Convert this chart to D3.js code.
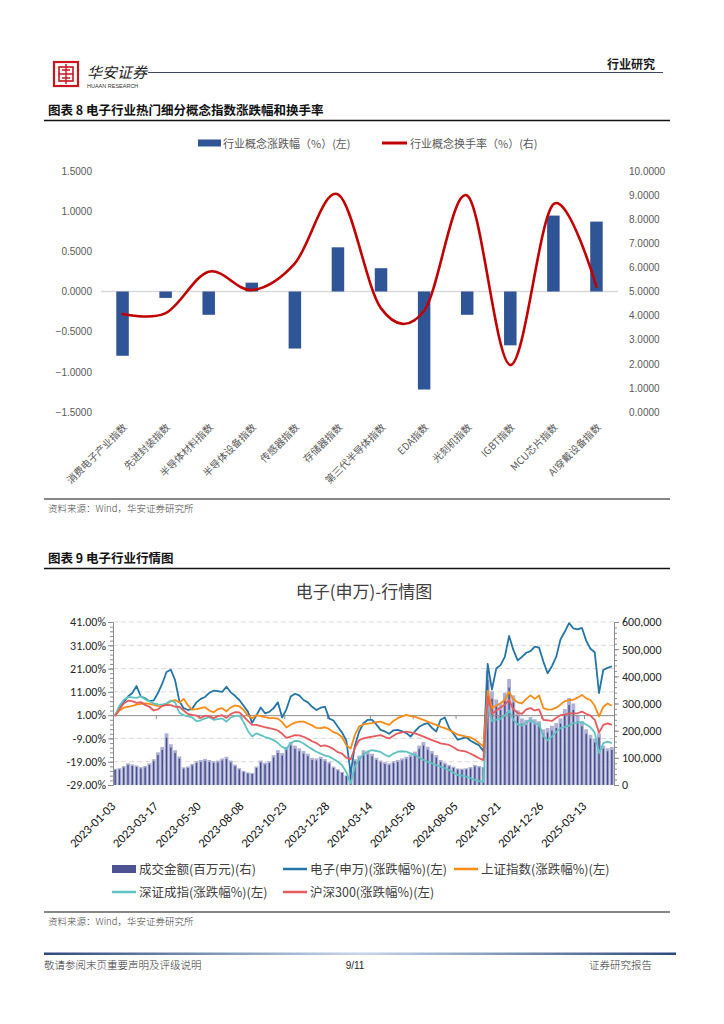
<!DOCTYPE html>
<html>
<head>
<meta charset="utf-8">
<script src="https://cdn.jsdelivr.net/npm/d3@7"></script>
<style>
    body { margin: 0; background: #fff; }
    svg { display: block; }
</style>
</head>
<body>
<script>
// ---- chart 8 data (concept indices) ----
let conceptNames = ['消费电子产业指数', '先进封装指数', '半导体材料指数', '半导体设备指数', '传感器指数', '存储器指数',
    '第三代半导体指数', 'EDA指数', '光刻机指数', 'IGBT指数', 'MCU芯片指数', 'AI穿戴设备指数'];
let conceptChange = [-0.80, -0.08, -0.29, 0.11, -0.71, 0.55, 0.29, -1.22, -0.29, -0.67, 0.945, 0.87];
let conceptTurnover = [4.07, 4.10, 5.82, 5.06, 6.17, 9.03, 4.30, 4.20, 8.98, 1.95, 8.62, 5.20];
let changeTicks = [-1.5, -1.0, -0.5, 0, 0.5, 1.0, 1.5];
let turnoverTicks = [0, 1, 2, 3, 4, 5, 6, 7, 8, 9, 10];

// ---- chart 9 data (weekly readings, every 5 trading days) ----
let dateLabels = ['2023-01-03', '2023-03-17', '2023-05-30', '2023-08-08', '2023-10-23', '2023-12-28',
    '2024-03-14', '2024-05-28', '2024-08-05', '2024-10-21', '2024-12-26', '2025-03-13'];
let dateLabelIndex = [0, 10, 20, 30, 40, 50, 60, 70, 80, 90, 100, 110];

// 成交金额 (百万元)
let amount = [60000, 62000, 70000, 80000, 76000, 72000, 66000, 70000, 80000, 95000,
    120000, 140000, 190000, 150000, 128000, 105000, 65000, 68000, 78000, 88000,
    92000, 96000, 92000, 88000, 90000, 98000, 104000, 90000, 75000, 62000,
    52000, 46000, 44000, 68000, 90000, 82000, 88000, 110000, 128000, 118000,
    140000, 158000, 145000, 135000, 125000, 115000, 100000, 98000, 104000, 95000,
    85000, 68000, 58000, 48000, 35000, 60000, 95000, 108000, 128000, 122000,
    115000, 100000, 90000, 84000, 80000, 88000, 92000, 98000, 104000, 112000,
    123000, 145000, 158000, 141000, 125000, 110000, 92000, 82000, 74000, 68000,
    61000, 60000, 62000, 66000, 74000, 70000, 67000, 420000, 345000, 315000,
    300000, 340000, 390000, 330000, 275000, 245000, 240000, 250000, 242000, 235000,
    205000, 210000, 218000, 228000, 245000, 280000, 320000, 300000, 255000, 235000,
    205000, 185000, 170000, 190000, 145000, 135000, 140000];

// 电子(申万) 涨跌幅 %
let elecChange = [1, 4, 6.5, 9, 10.5, 13.5, 9, 8.2, 7, 7.3,
    10.5, 14.5, 19.5, 20.5, 16, 7, 4, 3.2, 3.8, 6.5,
    8, 8.8, 10.6, 11.5, 11.3, 11, 13.2, 10.8, 9.3, 7.5,
    5, 2.5, -2.3, 1, 4.3, 1.8, 2.4, 4, 6.5, 0,
    3.5, 9, 10.2, 9.5, 7.5, 6.5, 4.6, 3.2, 4.2, 4.6,
    -0.5, -1.3, -4, -6.5, -10, -24, -12, -6, -2.5, -1,
    -1, -3, -5.3, -6, -7, -5.5, -5.3, -6, -6.7, -8.2,
    -6, -4, -3, -2.4, -4.5, -6, -1, 0, -4.5, -7,
    -9.6, -9, -8.5, -10, -11, -12, -14.5, 23, 12, 21,
    22.5, 26, 35, 29, 24.5, 26, 27.8, 28.5, 30.4, 30,
    24, 19, 22, 26, 33.5, 36.8, 40.5, 38.3, 37.8, 38.5,
    33, 29.5, 28, 10.5, 20.4, 21.3, 22];

// 上证指数 涨跌幅 %
let shChange = [1, 3, 4.2, 4.6, 5, 5.5, 5.8, 6.1, 5.8, 5.4,
    5, 4.8, 5.8, 7, 7.5, 6.4, 8, 5.2, 3.4, 3.6,
    4, 4.4, 3, 2.2, 3.6, 4, 2.6, 4.3, 5.2, 4.8,
    3.2, 0.8, -0.3, 1, 0.6, 0.2, -0.3, -0.3, -0.5, -2,
    -4.3, -3.1, -2.2, -1.8, -1.8, -2.6, -3.4, -4.5, -4.6, -4.2,
    -5, -6.3, -7, -8.5, -12, -13.3, -7.5, -3.8, -3, -2.6,
    -2.4, -2, -1.8, -2.5, -3.2, -1.5, -0.3, 0.5, 1.1, 0.6,
    0.3, -0.4, -1, -1.8, -2.5, -3.2, -4, -4.6, -5.4, -6.4,
    -7.4, -7.8, -8.2, -8.6, -9.6, -11, -12.5, 11.5, 4, 5,
    6.1, 7.5, 11, 7.8, 6.5, 6.1, 8, 9.5, 8, 9.5,
    4, 3.4, 3.5, 4.2, 5.5, 7, 7.5, 7.6, 8.5, 9.7,
    8.2, 7.5, 5, 0.5, 4.6, 6, 5];

// 深证成指 涨跌幅 %
let szChange = [1, 5, 7.5, 8.8, 8.6, 8.4, 9, 7.8, 7, 6,
    5.6, 5.5, 6.1, 7.3, 6.5, 2, 1, 0.5, 0, -1.7,
    -1.2, -0.4, 0.1, -1, -0.7, -0.4, -1.8, 0, 0.7, 0.8,
    -2, -5.8, -8.2, -6.8, -7.6, -8.4, -9, -9.7, -11, -12.6,
    -13.6, -11, -10, -10.2, -11.2, -12.5, -13.6, -14.7, -15.5, -16.4,
    -16.8, -17.8, -19, -20.5, -23.5, -28.3, -21, -18, -15.8, -14.6,
    -14, -14.4, -14.8, -16, -16.8, -15.5, -14.7, -14.5, -14.7, -15.4,
    -16.1, -17.2, -18.2, -19, -19.7, -20.5, -21.1, -21.8, -22.6, -23.7,
    -24.7, -25, -25.4, -26, -26.8, -27.3, -27.6, 5, -1.5, -1,
    -0.5, 0.8, 3, -1, -3, -3.5, -2.2, -1, -2.5, -2.8,
    -8, -9.8, -8.2, -6.2, -4.6, -4, -3.5, -2.5, -2.2, -2,
    -3, -4.2, -6.5, -15.3, -11, -10.4, -11];

// 沪深300 涨跌幅 %
let hs300Change = [0.5, 3.5, 6, 7.2, 7, 6.3, 6.6, 5.4, 4.6, 3,
    3.5, 5, 5.4, 5.3, 4.6, 4.6, 3, 1.5, 1.1, 0.8,
    -0.2, 0.8, 0.5, -0.3, 0.6, 1, -0.2, 1.5, 2.3, 2.2,
    0.5, -1.5, -3.2, -3.2, -3.7, -4.2, -4.6, -5, -5.6, -7,
    -8.8, -8.2, -7.6, -7.7, -8.3, -9.2, -10.2, -11, -12.3, -12,
    -12.6, -13.6, -14.9, -15.5, -17.3, -18, -13, -9.7, -9, -8.6,
    -8.2, -7.9, -7.6, -8.4, -9, -7.8, -6.8, -6.4, -6.1, -6.4,
    -6.8, -7.5, -8.2, -9, -9.7, -10.4, -11.1, -11.4, -11.8, -12.8,
    -14, -14.3, -14.7, -15.6, -16.5, -17.5, -18.3, 9, 1.5, 3,
    4.3, 5.5, 7.5, 3.5, 2, 1.5, 3.5, 4, 3, 3.5,
    -1, -1.2, -1.5, -0.2, 1, 1.2, 1.8, 1.8, 1.8, 2.5,
    1.6, 0.8, -1, -6.5, -3.2, -2.5, -3.2];

let pctTicks = [-29, -19, -9, 1, 11, 21, 31, 41];
let amountTicks = [0, 100000, 200000, 300000, 400000, 500000, 600000];

let cjk = '"Noto Sans CJK SC", "Noto Sans", sans-serif';
let latin = '"Liberation Sans", Arial, sans-serif';
let calib = 'Carlito, "Liberation Sans", Arial, sans-serif';

let svg = d3.select('body').append('svg')
    .attr('width', 724)
    .attr('height', 1024);

function translate(x, y) {
    return 'translate(' + x + ',' + y + ')';
}

// ================= page header =================
let header = svg.append('g').attr('id', 'header');
header.append('rect')
    .attr('x', 54).attr('y', 62).attr('width', 24).attr('height', 24)
    .attr('fill', '#fff').attr('stroke', '#c9151e').attr('stroke-width', 2.2);
header.append('rect')
    .attr('x', 59).attr('y', 67).attr('width', 14).attr('height', 14)
    .attr('fill', 'none').attr('stroke', '#c9151e').attr('stroke-width', 1.6);
header.append('path')
    .attr('d', 'M59,74H73M66,64V84M62,70H70M62,78H70')
    .attr('stroke', '#c9151e').attr('stroke-width', 1.4).attr('fill', 'none');
header.append('text')
    .attr('x', 87).attr('y', 78)
    .attr('font-family', cjk).attr('font-size', 15).attr('font-style', 'italic')
    .attr('fill', '#222')
    .text('华安证券');
header.append('text')
    .attr('x', 87).attr('y', 88)
    .attr('font-family', latin).attr('font-size', 5.5)
    .attr('fill', '#333')
    .text('HUAAN RESEARCH');
header.append('line')
    .attr('x1', 148).attr('x2', 663).attr('y1', 72.5).attr('y2', 72.5)
    .attr('stroke', '#3b4763').attr('stroke-width', 1);
header.append('text')
    .attr('x', 655).attr('y', 69).attr('text-anchor', 'end')
    .attr('font-family', cjk).attr('font-size', 12).attr('font-weight', 700)
    .attr('fill', '#1a1a1a')
    .text('行业研究');

// section title helper
function sectionTitle(y, label) {
    svg.append('text')
        .attr('x', 48).attr('y', y)
        .attr('font-family', cjk).attr('font-size', 12.5).attr('font-weight', 700)
        .attr('fill', '#111')
        .text(label);
    svg.append('line')
        .attr('x1', 44).attr('x2', 670).attr('y1', y + 5.5).attr('y2', y + 5.5)
        .attr('stroke', '#111').attr('stroke-width', 1.4);
}

function sourceNote(y) {
    svg.append('line')
        .attr('x1', 44).attr('x2', 670).attr('y1', y - 13).attr('y2', y - 13)
        .attr('stroke', '#111').attr('stroke-width', 1.2);
    svg.append('text')
        .attr('x', 48).attr('y', y)
        .attr('font-family', cjk).attr('font-size', 9.5).attr('font-weight', 300)
        .attr('fill', '#444')
        .text('资料来源：Wind，华安证券研究所');
}

// ================= chart 8 =================
sectionTitle(115, '图表 8 电子行业热门细分概念指数涨跌幅和换手率');

let c8 = svg.append('g').attr('id', 'chart8');
let x8 = d3.scaleBand().domain(conceptNames).range([101, 618]);
let yChange = d3.scaleLinear().domain([-1.5, 1.5]).range([412, 171]);
let yTurn = d3.scaleLinear().domain([0, 10]).range([412, 171]);
let barW8 = 12.5;

// legend
c8.append('rect').attr('x', 198).attr('y', 139.5).attr('width', 23).attr('height', 7).attr('fill', '#2f5597');
c8.append('text').attr('x', 223).attr('y', 147.5)
    .attr('font-family', cjk).attr('font-size', 11).attr('fill', '#595959')
    .text('行业概念涨跌幅（%）(左)');
c8.append('line').attr('x1', 382).attr('x2', 407).attr('y1', 143).attr('y2', 143)
    .attr('stroke', '#c00000').attr('stroke-width', 3);
c8.append('text').attr('x', 410).attr('y', 147.5)
    .attr('font-family', cjk).attr('font-size', 11).attr('fill', '#595959')
    .text('行业概念换手率（%）(右)');

// zero line
c8.append('line')
    .attr('x1', 101).attr('x2', 618)
    .attr('y1', yChange(0)).attr('y2', yChange(0))
    .attr('stroke', '#d9d9d9').attr('stroke-width', 1.5);

// bars
c8.selectAll('.bar8')
    .data(conceptNames)
    .enter()
    .append('rect')
    .attr('class', 'bar8')
    .attr('x', d => x8(d) + (x8.bandwidth() - barW8) / 2)
    .attr('width', barW8)
    .attr('y', (d, i) => yChange(Math.max(0, conceptChange[i])))
    .attr('height', (d, i) => Math.abs(yChange(conceptChange[i]) - yChange(0)))
    .attr('fill', '#2f5597');

// smoothed turnover line
let turnLine = d3.line()
    .x((d, i) => x8(conceptNames[i]) + x8.bandwidth() / 2)
    .y(d => yTurn(d))
    .curve(d3.curveCardinal.tension(0));
c8.append('path')
    .datum(conceptTurnover)
    .attr('d', turnLine)
    .attr('fill', 'none')
    .attr('stroke', '#c00000')
    .attr('stroke-width', 2.6)
    .attr('stroke-linecap', 'round');

// axes
let leftAxis8 = c8.append('g')
    .attr('transform', translate(92, 0))
    .call(d3.axisLeft(yChange).tickValues(changeTicks).tickFormat(d3.format('.4f')).tickSize(0).tickPadding(0));
let rightAxis8 = c8.append('g')
    .attr('transform', translate(629, 0))
    .call(d3.axisRight(yTurn).tickValues(turnoverTicks).tickFormat(d3.format('.4f')).tickSize(0).tickPadding(0));
[leftAxis8, rightAxis8].forEach(function(g) {
    g.select('.domain').remove();
    g.selectAll('text')
        .attr('font-family', latin).attr('font-size', 10).attr('fill', '#595959');
});

// rotated category labels
c8.selectAll('.cat8')
    .data(conceptNames)
    .enter()
    .append('text')
    .attr('class', 'cat8')
    .attr('transform', d => translate(x8(d) + x8.bandwidth() / 2 + 5, 428) + ' rotate(-45)')
    .attr('text-anchor', 'end')
    .attr('font-family', cjk).attr('font-size', 10).attr('fill', '#595959')
    .text(d => d);

sourceNote(512);

// ================= chart 9 =================
sectionTitle(563, '图表 9 电子行业行情图');

let c9 = svg.append('g').attr('id', 'chart9');
let N = amount.length;
let plot9 = {left: 113, right: 614, top: 622, bottom: 785};
let x9 = d3.scaleBand().domain(d3.range(N)).range([plot9.left, plot9.right]);
let xEdge = d3.scaleLinear().domain([0, N]).range([plot9.left, plot9.right]);
let yPct = d3.scaleLinear().domain([-29, 41]).range([plot9.bottom, plot9.top]);
let yAmt = d3.scaleLinear().domain([0, 600000]).range([plot9.bottom, plot9.top]);

c9.append('text')
    .attr('x', 364).attr('y', 598).attr('text-anchor', 'middle')
    .attr('font-family', cjk).attr('font-size', 17).attr('fill', '#404040')
    .text('电子(申万)-行情图');

// dashed gridlines
c9.selectAll('.grid9')
    .data(pctTicks.filter(t => t !== 1 && t !== -29))
    .enter()
    .append('line')
    .attr('x1', plot9.left).attr('x2', plot9.right)
    .attr('y1', d => yPct(d)).attr('y2', d => yPct(d))
    .attr('stroke', '#d9d9d9').attr('stroke-dasharray', '5,3');

// volume bars: light body with a dark core to mimic the dense daily columns
let bw = x9.bandwidth();
c9.selectAll('.vol')
    .data(amount)
    .enter()
    .append('rect')
    .attr('x', (d, i) => x9(i) + bw * 0.05)
    .attr('width', bw * 0.9)
    .attr('y', d => yAmt(d))
    .attr('height', d => yAmt(0) - yAmt(d))
    .attr('fill', '#aeb1d3');
c9.selectAll('.volcore')
    .data(amount)
    .enter()
    .append('rect')
    .attr('x', (d, i) => x9(i) + bw * 0.5 - 0.7)
    .attr('width', 1.4)
    .attr('y', d => yAmt(d * 0.92))
    .attr('height', d => yAmt(0) - yAmt(d * 0.92))
    .attr('fill', '#454b8d');

// x axis at 1.00%
c9.append('g')
    .attr('transform', translate(0, yPct(1)))
    .call(d3.axisBottom(xEdge).tickValues(dateLabelIndex).tickFormat('').tickSizeOuter(0).tickSize(4))
    .call(g => g.selectAll('line, path').attr('stroke', '#8c8c8c'));

// lines
let series = [
    {values: elecChange, color: '#2375a8'},
    {values: shChange, color: '#f98b16'},
    {values: szChange, color: '#5fc3c1'},
    {values: hs300Change, color: '#e65b5d'}
];
let pctLine = d3.line()
    .x((d, i) => x9(i) + bw / 2)
    .y(d => yPct(d));
series.forEach(function(s) {
    c9.append('path')
        .datum(s.values)
        .attr('d', pctLine)
        .attr('fill', 'none')
        .attr('stroke', s.color)
        .attr('stroke-width', 1.8)
        .attr('stroke-linejoin', 'round');
});

// left axis with minor ticks
let leftAxis9 = c9.append('g').attr('transform', translate(plot9.left, 0));
leftAxis9.call(d3.axisLeft(yPct).tickValues(d3.range(-29, 41.1, 2)).tickFormat('').tickSize(3).tickSizeOuter(0));
leftAxis9.append('g')
    .call(d3.axisLeft(yPct).tickValues(pctTicks).tickFormat(d => d.toFixed(2) + '%').tickSize(5).tickPadding(2).tickSizeOuter(0));
leftAxis9.selectAll('line, path').attr('stroke', '#8c8c8c');
leftAxis9.selectAll('text').attr('font-family', calib).attr('font-size', 12).attr('fill', '#262626');

// right axis with minor ticks
let rightAxis9 = c9.append('g').attr('transform', translate(plot9.right, 0));
rightAxis9.call(d3.axisRight(yAmt).tickValues(d3.range(0, 600001, 20000)).tickFormat('').tickSize(3).tickSizeOuter(0));
rightAxis9.append('g')
    .call(d3.axisRight(yAmt).tickValues(amountTicks).tickFormat(d3.format(',')).tickSize(5).tickPadding(3).tickSizeOuter(0));
rightAxis9.selectAll('line, path').attr('stroke', '#8c8c8c');
rightAxis9.selectAll('text').attr('font-family', calib).attr('font-size', 12).attr('fill', '#262626');

// rotated date labels
c9.selectAll('.date9')
    .data(dateLabels)
    .enter()
    .append('text')
    .attr('transform', (d, i) => translate(x9(dateLabelIndex[i]) + bw / 2 + 1, 807) + ' rotate(-45)')
    .attr('text-anchor', 'end')
    .attr('font-family', calib).attr('font-size', 12.5).attr('fill', '#111')
    .text(d => d);

// legend
let legend9 = [
    {label: '成交金额(百万元)(右)', type: 'bar', color: '#4e5391', x: 112, y: 869},
    {label: '电子(申万)(涨跌幅%)(左)', type: 'line', color: '#2375a8', x: 283, y: 869},
    {label: '上证指数(涨跌幅%)(左)', type: 'line', color: '#f98b16', x: 454, y: 869},
    {label: '深证成指(涨跌幅%)(左)', type: 'line', color: '#5fc3c1', x: 112, y: 892},
    {label: '沪深300(涨跌幅%)(左)', type: 'line', color: '#e65b5d', x: 283, y: 892}
];
legend9.forEach(function(item) {
    if (item.type === 'bar') {
        c9.append('rect').attr('x', item.x).attr('y', item.y - 4).attr('width', 24).attr('height', 8).attr('fill', item.color);
    } else {
        c9.append('line').attr('x1', item.x).attr('x2', item.x + 24).attr('y1', item.y).attr('y2', item.y)
            .attr('stroke', item.color).attr('stroke-width', 2.5);
    }
    c9.append('text')
        .attr('x', item.x + 27).attr('y', item.y + 4.5)
        .attr('font-family', cjk).attr('font-size', 12.5).attr('fill', '#404040')
        .text(item.label);
});

sourceNote(925);

// ================= footer =================
let grad = svg.append('defs').append('linearGradient').attr('id', 'footGrad');
grad.append('stop').attr('offset', '0%').attr('stop-color', '#2c4a7c');
grad.append('stop').attr('offset', '50%').attr('stop-color', '#c8d6ea');
grad.append('stop').attr('offset', '100%').attr('stop-color', '#2c4a7c');
svg.append('rect')
    .attr('x', 44).attr('y', 952.5).attr('width', 632).attr('height', 2.5)
    .attr('fill', 'url(#footGrad)');
svg.append('text')
    .attr('x', 44).attr('y', 969)
    .attr('font-family', cjk).attr('font-size', 10.5).attr('font-weight', 300).attr('fill', '#333')
    .text('敬请参阅末页重要声明及评级说明');
svg.append('text')
    .attr('x', 355).attr('y', 969).attr('text-anchor', 'middle')
    .attr('font-family', latin).attr('font-size', 10).attr('fill', '#222')
    .text('9/11');
svg.append('text')
    .attr('x', 652).attr('y', 969).attr('text-anchor', 'end')
    .attr('font-family', cjk).attr('font-size', 10.5).attr('font-weight', 300).attr('fill', '#333')
    .text('证券研究报告');
</script>
</body>
</html>
